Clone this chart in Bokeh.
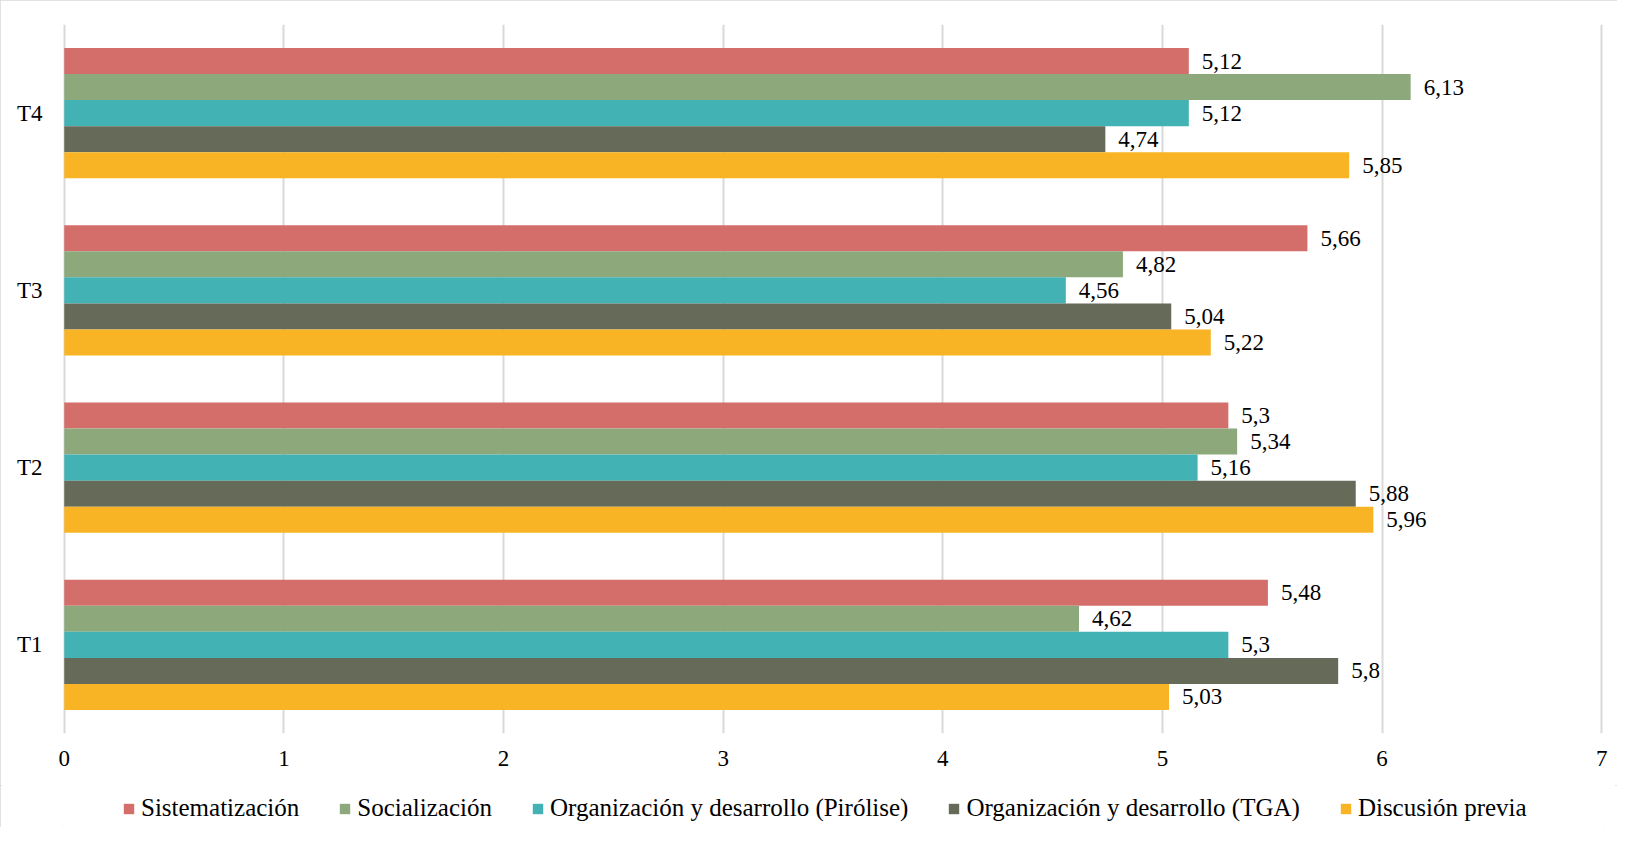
from bokeh.plotting import figure
from bokeh.layouts import column
from bokeh.models import (ColumnDataSource, FactorRange, Range1d, FixedTicker,
                          Legend, LegendItem)
from bokeh.transform import dodge
from bokeh.core.properties import value
from bokeh.embed import file_html
from bokeh.resources import INLINE

categories = ["T1", "T2", "T3", "T4"]
series_names = ["Sistematización", "Socialización",
                "Organización y desarrollo (Pirólise)",
                "Organización y desarrollo (TGA)", "Discusión previa"]
sistematizacion = [5.48, 5.3, 5.66, 5.12]
socializacion = [4.62, 5.34, 4.82, 6.13]
pirolise = [5.3, 5.16, 4.56, 5.12]
tga = [5.8, 5.88, 5.04, 4.74]
discusion = [5.03, 5.96, 5.22, 5.85]
x_ticks = [0, 1, 2, 3, 4, 5, 6, 7]

series_values = [sistematizacion, socializacion, pirolise, tga, discusion]
colors = ["#D46E6A", "#8DA97C", "#42B2B5", "#666B59", "#F8B425"]

FONT = "Liberation Serif"
BAR_H = 0.1467
offsets = [2 * BAR_H, BAR_H, 0.0, -BAR_H, -2 * BAR_H]

W = 1617
H_MAIN, H_LEG = 785, 42

# ---- main chart ----
p = figure(width=W, height=H_MAIN, output_backend="svg", toolbar_location=None,
           y_range=FactorRange(factors=categories, range_padding=0),
           x_range=Range1d(-0.008, 7.008),
           min_border_left=62, min_border_right=14,
           min_border_top=24, min_border_bottom=52)
p.outline_line_color = None
p.background_fill_color = "white"
p.border_fill_color = "white"

# ---- legend strip (its bars have no height, only the legend shows) ----
pl = figure(width=W, height=H_LEG, output_backend="svg", toolbar_location=None,
            y_range=FactorRange(factors=categories, range_padding=0),
            x_range=Range1d(100, 101),
            x_axis_location=None, y_axis_location=None,
            min_border_left=0, min_border_right=0,
            min_border_top=0, min_border_bottom=0)
pl.outline_line_color = None
pl.background_fill_color = "white"
pl.border_fill_color = "white"
pl.grid.visible = False

items = []
for name, vals, col, off in zip(series_names, series_values, colors, offsets):
    src = ColumnDataSource(dict(cat=categories, v=vals,
                                lab=[str(v).replace(".", ",") for v in vals]))
    p.hbar(y=dodge("cat", off, range=p.y_range), right="v", left=0,
           height=BAR_H, source=src, fill_color=col, line_color=None)
    p.text(x="v", y=dodge("cat", off, range=p.y_range), text="lab", source=src,
           x_offset=13, text_align="left", text_baseline="middle",
           text_font=value(FONT), text_font_size="23px", text_color="black")
    rl = pl.hbar(y=dodge("cat", off, range=pl.y_range), right="v", left=0,
                 height=0, source=src, fill_color=col, line_color=None)
    items.append(LegendItem(label=name, renderers=[rl]))

p.xaxis.ticker = FixedTicker(ticks=x_ticks)
for ax in (p.xaxis, p.yaxis):
    ax.axis_line_color = None
    ax.major_tick_line_color = None
    ax.minor_tick_line_color = None
    ax.major_tick_out = 0
    ax.major_tick_in = 0
    ax.major_label_text_font = FONT
    ax.major_label_text_font_size = "23px"
    ax.major_label_text_color = "black"
p.xaxis.major_label_standoff = 17
p.yaxis.major_label_standoff = 20

p.xgrid.grid_line_color = "#D9D9D9"
p.xgrid.grid_line_width = 2
p.ygrid.grid_line_color = None

legend = Legend(items=items, orientation="horizontal", location=(60, 5),
                padding=0, margin=0, spacing=39, border_line_color=None,
                background_fill_alpha=0, glyph_width=13, glyph_height=13,
                label_standoff=6, label_height=25,
                label_text_font=FONT, label_text_font_size="25px",
                label_text_color="black")
pl.add_layout(legend, "center")

layout = column(p, pl, spacing=0)
layout.styles = {"outline": "2px solid #D9D9D9", "outline-offset": "-2px"}

open("out.html", "w").write(file_html(layout, INLINE))
